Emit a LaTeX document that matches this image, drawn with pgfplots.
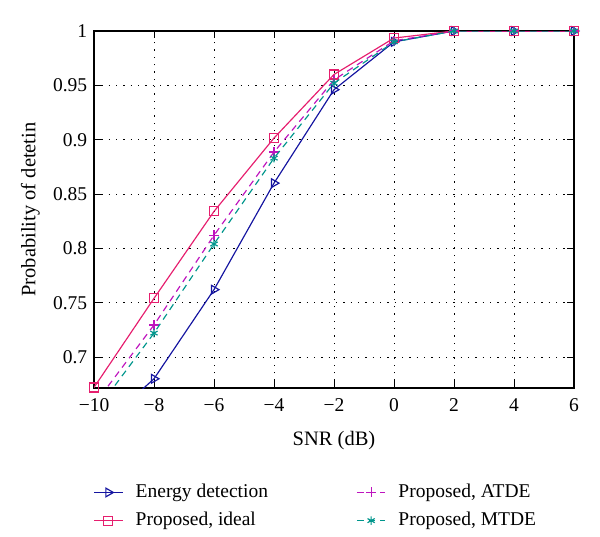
\documentclass[border=0pt]{standalone}
\usepackage{fontspec}
\setmainfont{Liberation Serif}
\usepackage{pgfplots}
\pgfplotsset{compat=1.18}
\definecolor{edblue}{RGB}{20,20,160}
\definecolor{idealpink}{RGB}{230,30,110}
\definecolor{atdemag}{RGB}{190,20,190}
\definecolor{mtdeteal}{RGB}{0,150,140}
\begin{document}
\fontsize{11.7pt}{14pt}\selectfont
\begin{tikzpicture}
\begin{axis}[
  name=ax,
  width=288pt, height=214.2pt,
  scale only axis,
  xmin=-10, xmax=6, ymin=0.6715, ymax=1,
  xtick={-10,-8,...,6},
  xticklabels={−10,−8,−6,−4,−2,0,2,4,6},
  ytick={0.7,0.75,0.8,0.85,0.9,0.95,1},
  yticklabels={0.7,0.75,0.8,0.85,0.9,0.95,1},
  tick label style={font=\fontsize{11.7pt}{14pt}\selectfont},
  xticklabel style={yshift=-2pt},
  grid=major,
  major grid style={black, line width=0.5pt, dash pattern=on 0.8pt off 3.6pt},
  axis line style={line width=0.7pt},
  tick style={black, line width=0.6pt},
  xlabel={SNR (dB)},
  ylabel={Probability of detetin},
  label style={font=\fontsize{12.3pt}{14.5pt}\selectfont},
  xlabel style={yshift=-4pt},
  ylabel style={yshift=0pt},
  legend columns=2,
  legend cell align=left,
  legend style={draw=none, at={(-0.012,-0.25)}, anchor=north west,
    /tikz/every even column/.append style={column sep=51pt},
    /tikz/every odd column/.append style={column sep=5.5pt},
    row sep=3pt, font=\fontsize{11.7pt}{14pt}\selectfont},
  clip mode=individual,
]
\addplot[edblue, line width=0.7pt, mark=triangle, mark size=3pt, mark options={rotate=-90, solid}]
  coordinates {(-10,0.63) (-8,0.680) (-6,0.762) (-4,0.860) (-2,0.946) (0,0.990) (2,1) (4,1) (6,1)};
\addlegendentry{Energy detection}
\addplot[atdemag, line width=0.7pt, dashed, dash pattern=on 4pt off 3pt, mark=+, mark size=3pt, mark options={solid}]
  coordinates {(-10,0.656) (-8,0.7295) (-6,0.812) (-4,0.8886) (-2,0.955) (0,0.991) (2,1) (4,1) (6,1)};
\addlegendentry{Proposed, ATDE}
\addplot[idealpink, line width=0.7pt, mark=square, mark size=2.7pt, mark options={solid}]
  coordinates {(-10,0.672) (-8,0.754) (-6,0.834) (-4,0.9015) (-2,0.960) (0,0.9935) (2,1) (4,1) (6,1)};
\addlegendentry{Proposed, ideal}
\addplot[mtdeteal, line width=0.7pt, dashed, dash pattern=on 4pt off 3pt, mark=asterisk, mark size=2.5pt, mark options={solid}]
  coordinates {(-10,0.648) (-8,0.722) (-6,0.804) (-4,0.883) (-2,0.952) (0,0.990) (2,1) (4,1) (6,1)};
\addlegendentry{Proposed, MTDE}
\end{axis}
\pgfresetboundingbox
\path ([xshift=-56.4pt,yshift=-88.8pt]ax.south west) rectangle ([xshift=15.6pt,yshift=18.6pt]ax.north east);
\end{tikzpicture}
\end{document}
